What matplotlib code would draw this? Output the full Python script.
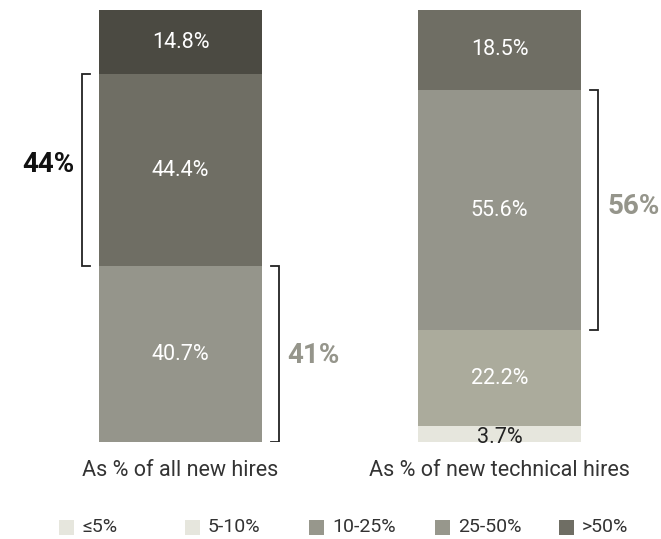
import matplotlib.pyplot as plt
from matplotlib.patches import Rectangle

# data
groups = ["As % of all new hires", "As % of new technical hires"]
all_hires = [40.7, 44.4, 14.8]            # bottom -> top
all_colors = ["#95958b", "#6f6e64", "#4b4a42"]
tech_hires = [3.7, 22.2, 55.6, 18.5]
tech_colors = ["#e6e6dd", "#abab9c", "#95958b", "#6f6e64"]
legend_labels = ["≤5%", "5-10%", "10-25%", "25-50%", ">50%"]
legend_colors = ["#e6e6dd", "#e6e6dd", "#97978c", "#97978c", "#6f6e64"]

plt.rcParams['font.family'] = ['Roboto', 'DejaVu Sans']

W, H = 661, 539
fig = plt.figure(figsize=(W / 100, H / 100), dpi=100)
ax = fig.add_axes([0, 1 - 442 / H, 1, (442 - 10) / H])
ax.set_xlim(0, W)
ax.set_ylim(0, 100)
ax.axis('off')

centers = [180.5, 499.5]
bw = 163


def stack(xc, vals, colors, label_colors):
    bottom = 0
    for v, c, tc in zip(vals, colors, label_colors):
        ax.bar(xc, v, bw, bottom=bottom, color=c, linewidth=0)
        # thin bottom segment: label sits a touch lower, overhanging the bar
        dy = -0.7 if v < 5 else 0
        ax.text(xc, bottom + v / 2 + dy, f"{v:.1f}%", ha='center', va='center',
                color=tc, fontsize=15.5)
        bottom += v


stack(centers[0], all_hires, all_colors, ["white"] * 3)
stack(centers[1], tech_hires, tech_colors, ["#222222"] + ["white"] * 3)


def bracket(x, y0, y1, direction, label, color, tx, dy=0):
    tick = 8 * direction
    ax.plot([x + tick, x, x, x + tick], [y0, y0, y1, y1],
            color="#222222", lw=1.3, solid_joinstyle='miter')
    ax.text(tx, (y0 + y1) / 2 + dy, label, ha='center', va='center',
            fontsize=20, fontweight='bold', color=color)


b0 = all_hires[0]
bracket(82, b0, b0 + all_hires[1], 1, f"{all_hires[1]:.0f}%", "#111111", 48, 1.3)
bracket(279, 0, b0, -1, f"{all_hires[0]:.0f}%", "#95958b", 313, -0.3)
t0 = tech_hires[0] + tech_hires[1]
bracket(598, t0, t0 + tech_hires[2], -1, f"{tech_hires[2]:.0f}%", "#95958b", 634, 0.7)

# category labels
for xc, g in zip(centers, groups):
    fig.text(xc / W, 1 - 471 / H, g, ha='center', va='center',
             fontsize=15.5, color="#333333")

# legend row
lx = [59, 185, 309, 435, 559]
ly = 527
for x, lab, c in zip(lx, legend_labels, legend_colors):
    fig.add_artist(Rectangle((x / W, 1 - (ly + 8) / H), 15 / W, 15 / H,
                             transform=fig.transFigure, color=c, lw=0))
    fig.text((x + 23) / W, 1 - ly / H, lab, ha='left', va='center',
             fontsize=14, color="#333333")

fig.savefig("out.png", dpi=100)
